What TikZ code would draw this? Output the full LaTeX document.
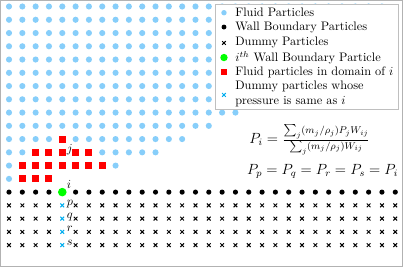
\documentclass[tikz,border=0pt]{standalone}
\usetikzlibrary{shapes.misc}
\definecolor{fluidblue}{RGB}{135,206,250}
\definecolor{limegreen}{RGB}{0,255,0}
\begin{document}
\begin{tikzpicture}[x=10.84pt,y=-10.79pt,
    fluid/.style={circle,fill=fluidblue,inner sep=0,minimum size=5pt},
    wall/.style={circle,fill=black,inner sep=0,minimum size=4.2pt},
    dummy/.style={cross out,draw=black,line width=0.8pt,inner sep=0,minimum size=2.2pt},
    samep/.style={dummy,draw=cyan},
    ith/.style={circle,fill=limegreen,inner sep=0,minimum size=7pt},
    kernel/.style={rectangle,fill=red,inner sep=0,minimum size=5.7pt},
    lbl/.style={anchor=base west,inner sep=0,xshift=3.5pt}]
\useasboundingbox (-0.676,-0.49) rectangle (29.58,19.65);
\draw[gray!60,line width=0.6pt] (-0.64,-0.45) rectangle (29.5,19.57);

\foreach \r/\a/\b in {0/0/28,1/0/28,2/0/28,3/0/28,4/0/28,5/0/28,6/0/28,7/0/28,
    8/0/17,9/0/15,10/0/3,10/5/13,11/0/1,11/7/11,12/0/0,12/8/8,13/0/0}{
    \foreach \c in {\a,...,\b}{
        \node[fluid] (f-\c-\r) at (\c,\r) {};
    }
}
\foreach \r/\a/\b in {10/4/4,11/2/6,12/1/7,13/1/3}{
    \foreach \c in {\a,...,\b}{
        \node[kernel] (k-\c-\r) at (\c,\r) {};
    }
}

\foreach \c in {0,1,2,3,5,6,...,29}{
    \node[wall] (w-\c) at (\c,14) {};
    \foreach \r in {15,...,18}{
        \node[dummy] (d-\c-\r) at (\c,\r) {};
    }
}
\node[ith] (w-4) at (4,14) {};
\foreach \r/\n in {15/p,16/q,17/r,18/s}{
    \node[samep] (d-4-\r) at (4,\r) {};
    \node[lbl] (l-\n) at (d-4-\r.center) {$\n$};
}
\node[lbl] (l-j) at (k-4-11.center) {$j$};
\node[lbl,yshift=3.2pt] (l-i) at (w-4.center) {$i$};

\draw[gray!50,fill=white,line width=0.6pt] (15.52,-0.19) rectangle (29.23,7.75);
\node[fluid,minimum size=4.4pt] (lg-f) at (16.14,0.47) {};
\node[wall,minimum size=4pt] (lg-w) at (16.14,1.55) {};
\node[dummy] (lg-d) at (16.14,2.75) {};
\node[ith,minimum size=6pt] (lg-i) at (16.14,3.85) {};
\node[kernel,minimum size=4.6pt] (lg-k) at (16.14,4.94) {};
\node[samep] (lg-s) at (16.14,6.67) {};
\node[anchor=west,inner sep=0] (t-f) at (16.97,0.47) {Fluid Particles};
\node[anchor=west,inner sep=0] (t-w) at (16.97,1.55) {Wall Boundary Particles};
\node[anchor=west,inner sep=0] (t-d) at (16.97,2.75) {Dummy Particles};
\node[anchor=west,inner sep=0] (t-i) at (16.97,3.85) {$i^{th}$ Wall Boundary Particle};
\node[anchor=west,inner sep=0] (t-k) at (16.97,4.94) {Fluid particles in domain of $i$};
\node[anchor=west,inner sep=0,align=left] (t-s) at (16.97,6.6) {Dummy particles whose\\pressure is same as $i$};

\node[anchor=west,inner sep=0,font=\large] (eq-i) at (18.02,10.07)
    {$P_i = \frac{\sum_j (m_j/\rho_j) P_j W_{ij}}{\sum_j (m_j/\rho_j) W_{ij}}$};
\node[anchor=west,inner sep=0,font=\large] (eq-p) at (17.85,12.46) {$P_p = P_q = P_r = P_s = P_i$};
\end{tikzpicture}
\end{document}
